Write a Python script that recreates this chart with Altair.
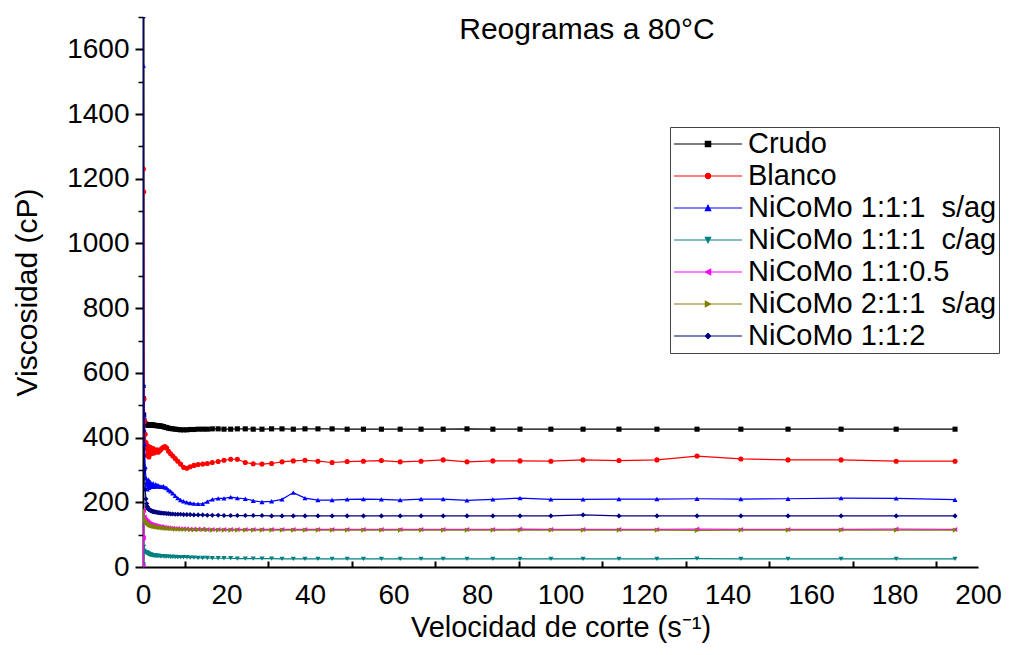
import altair as alt
import pandas as pd

# ---------------- data ----------------
series_names = ["Crudo", "Blanco", "NiCoMo 1:1:1 \u00a0s/ag", "NiCoMo 1:1:1 \u00a0c/ag",
                "NiCoMo 1:1:0.5", "NiCoMo 2:1:1 \u00a0s/ag", "NiCoMo 1:1:2"]
series_colors = ["#000000", "#FF0000", "#0000FF", "#008080", "#FF00FF", "#808000", "#000080"]
series_shapes = ["square", "circle", "triangle-up", "triangle-down",
                 "triangle-left", "triangle-right", "diamond"]

# shear rate (s^-1)
shear_rate = [0.10, 0.16, 0.24, 0.36, 0.52, 0.71, 0.89,
              0.97, 1.04, 1.12, 1.22, 1.31, 1.42, 1.53, 1.65, 1.79, 1.93,
              2.08, 2.25, 2.43, 2.62, 2.84, 3.06, 3.31, 3.57, 3.86, 4.17,
              4.50, 4.86, 5.25, 5.67, 6.12, 6.61, 7.14, 7.72, 8.33, 9.00,
              9.72, 10.5, 11.3, 12.2, 13.2, 14.3, 15.4, 16.6, 18.0, 19.4,
              21.0, 22.6, 24.5, 26.4, 28.5, 30.8, 33.3, 36.0, 38.8, 41.9,
              45.3, 48.9, 52.8, 57.1, 61.6, 66.6, 71.9, 77.6, 83.8, 90.3,
              97.7, 105.4, 114.0, 123.1, 132.7, 143.2, 154.5, 167.2, 180.4, 194.5]

crudo = [520, 470, 452, 446, 443, 441, 440,
         440, 440, 439, 440, 439, 440, 439, 439, 440, 439,
         439, 439, 438, 438, 438, 437, 437, 437, 436, 436,
         435, 434, 432, 431, 429, 428, 427, 426, 425, 424,
         424, 424, 425, 425, 426, 426, 426, 427, 427, 426,
         426, 427, 427, 426, 426, 427, 427, 426, 427, 427,
         427, 426, 426, 426, 426, 426, 426, 427, 426, 426,
         426, 426, 426, 426, 426, 426, 426, 426, 426, 426]

blanco = [1230, 1160, 520, 450, 410, 385, 372,
          365, 345, 375, 352, 368, 340, 362, 355, 370, 350,
          362, 358, 366, 352, 360, 357, 362, 355, 358, 362,
          366, 370, 372, 368, 358, 350, 343, 335, 327, 318,
          308, 305, 310, 314, 317, 318, 320, 323, 326, 330,
          333, 333, 323, 319, 318, 320, 325, 328, 330, 327,
          323, 326, 327, 329, 325, 327, 331, 325, 328, 328,
          327, 331, 329, 331, 343, 334, 331, 331, 327, 327]

s_ag_111 = [1550, 560, 470, 380, 310, 275, 262,
            255, 240, 262, 248, 270, 245, 258, 250, 262, 248,
            255, 250, 258, 248, 252, 256, 249, 253, 250, 248,
            248, 250, 246, 244, 238, 234, 228, 220, 213, 207,
            203, 200, 198, 196, 195, 195, 202, 209, 212, 212,
            216, 213, 211, 205, 201, 203, 209, 230, 213, 207,
            207, 209, 210, 209, 207, 210, 210, 206, 209, 213,
            209, 209, 210, 210, 211, 210, 211, 213, 212, 208]

c_ag_111 = [8, 62, 50, 47, 46, 45, 44,
            44, 43, 42, 41, 40, 40, 39, 38, 38, 37,
            37, 36, 36, 35, 35, 35, 34, 34, 34, 33,
            33, 33, 32, 32, 32, 31, 31, 31, 30, 30,
            30, 30, 29, 29, 28, 28, 28, 27, 27, 27,
            27, 26, 26, 26, 26, 26, 25, 25, 25, 25,
            25, 25, 25, 25, 25, 25, 25, 25, 25, 25,
            25, 25, 25, 25, 26, 25, 25, 25, 25, 25]

r_1105 = [3, 90, 175, 155, 148, 145, 142,
          141, 140, 138, 137, 136, 135, 134, 133, 132, 131,
          131, 130, 129, 128, 128, 127, 126, 126, 125, 124,
          124, 123, 122, 121, 121, 120, 120, 119, 119, 118,
          118, 118, 117, 117, 117, 117, 116, 116, 116, 116,
          116, 116, 116, 116, 116, 116, 116, 116, 116, 116,
          116, 116, 116, 116, 116, 116, 116, 116, 116, 117,
          116, 116, 116, 116, 117, 116, 116, 116, 117, 116]

s_ag_211 = [175, 160, 150, 145, 142, 140, 139,
            138, 137, 136, 134, 133, 132, 131, 130, 129, 128,
            128, 127, 126, 125, 125, 124, 124, 123, 122, 122,
            121, 121, 120, 119, 119, 118, 118, 117, 117, 116,
            116, 116, 115, 115, 115, 115, 115, 114, 114, 114,
            114, 114, 114, 114, 114, 114, 114, 114, 114, 114,
            114, 114, 114, 114, 114, 114, 114, 114, 114, 114,
            114, 114, 114, 114, 113, 114, 114, 114, 114, 114]

r_112 = [1700, 560, 420, 300, 240, 210, 196,
         188, 186, 183, 181, 179, 178, 177, 176, 175, 174,
         173, 172, 172, 171, 170, 170, 169, 168, 168, 167,
         167, 166, 166, 165, 165, 164, 164, 163, 163, 163,
         162, 162, 162, 161, 161, 161, 160, 160, 160, 159,
         159, 159, 159, 159, 159, 158, 158, 158, 158, 158,
         158, 158, 158, 158, 158, 158, 158, 158, 158, 158,
         158, 161, 158, 158, 158, 158, 158, 158, 158, 158]

series_values = [crudo, blanco, s_ag_111, c_ag_111, r_1105, s_ag_211, r_112]

x_labels = list(range(0, 201, 20))
x_minor = list(range(10, 200, 20))
y_labels = list(range(0, 1601, 200))
y_minor = list(range(100, 1701, 200))

chart_title = "Reogramas a 80°C"
x_title = "Velocidad de corte (s\u207b\u00b9)"
y_title = "Viscosidad (cP)"

# ---------------- tables ----------------
rows = []
for name, vals in zip(series_names, series_values):
    for i, (xv, yv) in enumerate(zip(shear_rate, vals)):
        rows.append({"Serie": name, "x": xv, "y": yv, "i": i})
df = pd.DataFrame(rows)
legend_df = pd.DataFrame({"Serie": series_names})
title_df = pd.DataFrame({"t": [chart_title]})

FONT = "Liberation Sans"

xs = alt.Scale(domain=[0, 200], nice=False, zero=False)
ys = alt.Scale(domain=[0, 1700], nice=False)

main_x_axis = alt.Axis(values=x_labels, format="d", grid=False, labelFlush=False,
                       labelOverlap=False, labelFont=FONT, labelFontSize=28,
                       labelColor="black", labelPadding=6, tickSize=8, tickOpacity=0,
                       domainColor="black", domainWidth=2, title=x_title,
                       titleFont=FONT, titleFontSize=29, titleFontWeight="normal",
                       titleColor="black", titlePadding=4)
main_y_axis = alt.Axis(values=y_labels, format="d", grid=False, labelFont=FONT,
                       labelFontSize=28, labelColor="black", labelPadding=6,
                       tickSize=8, tickWidth=2, tickColor="black", domainColor="black",
                       domainWidth=2, title=y_title, titleFont=FONT, titleFontSize=30,
                       titleFontWeight="normal", titleColor="black", titlePadding=24)
minor_x_axis = alt.Axis(orient="bottom", values=x_minor, labels=False, domain=False,
                        grid=False, tickSize=6, tickWidth=2, tickColor="black",
                        offset=-6, title=None)
minor_y_axis = alt.Axis(orient="left", values=y_minor, labels=False, domain=False,
                        grid=False, tickSize=5, tickWidth=1.5, tickColor="black",
                        title=None)

# one line layer and one marker layer per series (drawn in legend order)
series_layers = []
for k, (name, col, shp) in enumerate(zip(series_names, series_colors, series_shapes)):
    base = alt.Chart(df).transform_filter(alt.datum.Serie == name)
    series_layers.append(
        base.mark_line(strokeWidth=1.2, color=col, clip=True).encode(
            x=alt.X("x:Q", scale=xs, axis=main_x_axis if k == 0 else None),
            y=alt.Y("y:Q", scale=ys, axis=main_y_axis if k == 0 else None),
            order="i:Q",
        )
    )
    series_layers.append(
        base.mark_point(shape=shp, filled=True, size=26, opacity=1, color=col, clip=True).encode(
            x=alt.X("x:Q", scale=xs, axis=minor_x_axis if k == 0 else None),
            y=alt.Y("y:Q", scale=ys, axis=minor_y_axis if k == 0 else None),
        )
    )

# legend symbols: a 68 px line with a small marker in its middle
# (symbol size 784 -> path unit = 14 px)
L = 2.43
m = 0.19
marker_paths = {
    "square": f"M{-m},{-m}H{m}V{m}H{-m}Z",
    "circle": f"M{-m},0A{m},{m},0,1,0,{m},0A{m},{m},0,1,0,{-m},0Z",
    "triangle-up": f"M0,{-m}L{m},{m}L{-m},{m}Z",
    "triangle-down": f"M0,{m}L{m},{-m}L{-m},{-m}Z",
    "triangle-left": f"M{-m},0L{m},{-m}L{m},{m}Z",
    "triangle-right": f"M{m},0L{-m},{-m}L{-m},{m}Z",
    "diamond": f"M0,{-m}L{m},0L0,{m}L{-m},0Z",
}
legend_paths = [f"M{-L},0H{L}" + marker_paths[s] for s in series_shapes]

leg = dict(orient="none", legendX=527, legendY=110, title=None, labelFont=FONT,
           labelFontSize=29, labelColor="black", labelLimit=600, labelOffset=25,
           symbolSize=784, symbolStrokeWidth=1.2, symbolOffset=21, rowPadding=2,
           padding=2, strokeColor="#444444", fillColor="white", symbolOpacity=1)

# legend-only layer: its own stroke / fill / shape scales; its marks sit outside the clip
legend_layer = alt.Chart(legend_df).mark_point(filled=False, opacity=1, clip=True).encode(
    x=alt.value(-200),
    y=alt.value(-200),
    stroke=alt.Stroke("Serie:N", scale=alt.Scale(domain=series_names, range=series_colors),
                      legend=alt.Legend(**leg)),
    fill=alt.Fill("Serie:N", scale=alt.Scale(domain=series_names, range=series_colors),
                  legend=alt.Legend(**leg)),
    shape=alt.Shape("Serie:N", scale=alt.Scale(domain=series_names, range=legend_paths),
                    legend=alt.Legend(**leg)),
)

title_layer = alt.Chart(title_df).mark_text(
    font=FONT, fontSize=30, align="center", baseline="alphabetic", color="black"
).encode(x=alt.value(444), y=alt.value(22), text="t:N")

chart = alt.layer(*series_layers, legend_layer, title_layer).resolve_axis(
    x="independent", y="independent"
).properties(
    width=835, height=550,
    autosize=alt.AutoSizeParams(type="none"),
    padding={"left": 135, "top": 9, "right": 26, "bottom": 82},
    background="white",
).configure_view(stroke=None)

chart.save("out.html", embed_options={"renderer": "svg", "actions": False})
